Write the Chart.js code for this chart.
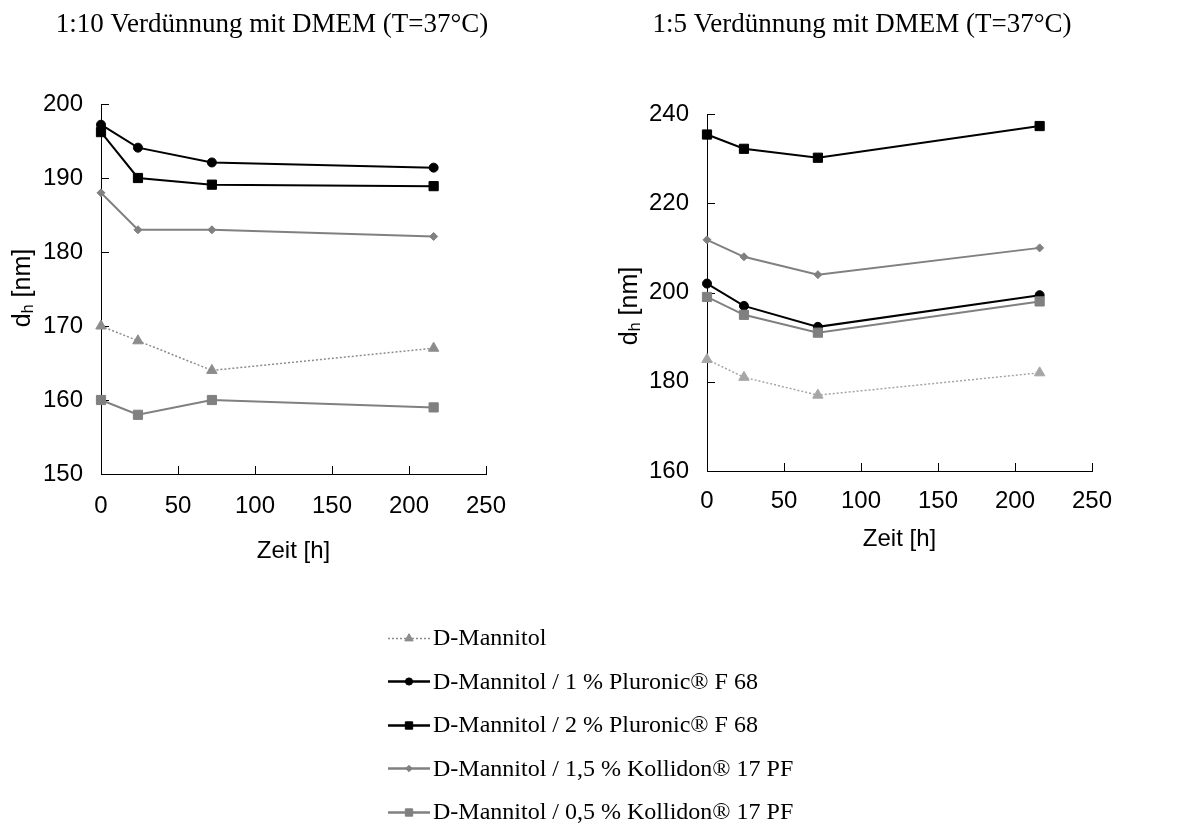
<!DOCTYPE html>
<html lang="de">
<head>
<meta charset="utf-8">
<title>Verdünnung mit DMEM (T=37°C)</title>
<script src="https://cdn.jsdelivr.net/npm/chart.js@4.4.1/dist/chart.umd.min.js"></script>
<style>
  html, body { margin: 0; padding: 0; background: #fff; }
  #page { position: relative; width: 1178px; height: 825px; overflow: hidden; }
  .box { position: absolute; top: 0; }
  #left { left: 0; }
  #right { left: 590px; }
  #legend { position: absolute; left: 388px; top: 616px; font-family: "Liberation Serif", "Times New Roman", serif; font-size: 24px; color: #000; }
  .row { display: flex; align-items: center; height: 43.5px; white-space: nowrap; }
  .row canvas { display: block; margin-right: 3px; }
</style>
</head>
<body>
<div id="page">
  <canvas id="left" class="box" width="590" height="600"></canvas>
  <canvas id="right" class="box" width="588" height="600"></canvas>
  <div id="legend"></div>
</div>
<script>
// Zeitpunkte (x) und Achsenticks
const hours = [0, 24, 72, 216];
const xTicks = [0, 50, 100, 150, 200, 250];

const seriesNames = [
  'D-Mannitol',
  'D-Mannitol / 1 % Pluronic® F 68',
  'D-Mannitol / 2 % Pluronic® F 68',
  'D-Mannitol / 1,5 % Kollidon® 17 PF',
  'D-Mannitol / 0,5 % Kollidon® 17 PF'
];

// 1:10 Verdünnung
const mannitol10 = [170, 168, 164, 167];
const pluronic1_10 = [197.2, 194.1, 192.1, 191.4];
const pluronic2_10 = [196.2, 190, 189.1, 188.9];
const kollidon15_10 = [188, 183, 183, 182.1];
const kollidon05_10 = [160, 158, 160, 159];

// 1:5 Verdünnung
const mannitol5 = [185, 181, 177, 182];
const pluronic1_5 = [202, 197, 192.3, 199.4];
const pluronic2_5 = [235.4, 232.2, 230.2, 237.3];
const kollidon15_5 = [211.8, 208, 204, 210];
const kollidon05_5 = [199, 195, 191, 198];

// Darstellung der Reihen
const styles = [
  { color: '#8c8c8c', point: 'triangle', radius: 6, width: 1.5, dash: [2, 2] },
  { color: '#000000', point: 'circle', radius: 4.5, width: 2, dash: [] },
  { color: '#000000', point: 'rect', radius: 6.5, width: 2, dash: [] },
  { color: '#808080', point: 'rectRot', radius: 4, width: 2, dash: [] },
  { color: '#808080', point: 'rect', radius: 6.5, width: 2, dash: [] }
];

const sansFont = { family: '"Liberation Sans", Arial, sans-serif', size: 24 };

// Kleine Ticks nach innen
const innerTicks = {
  id: 'innerTicks',
  beforeDatasetsDraw(chart) {
    const { ctx, chartArea, scales } = chart;
    ctx.save();
    ctx.strokeStyle = '#000';
    ctx.lineWidth = 1;
    scales.y.ticks.forEach(t => {
      const py = Math.round(scales.y.getPixelForValue(t.value)) + 0.5;
      ctx.beginPath();
      ctx.moveTo(chartArea.left, py);
      ctx.lineTo(chartArea.left + 8, py);
      ctx.stroke();
    });
    scales.x.ticks.forEach(t => {
      const px = Math.round(scales.x.getPixelForValue(t.value)) + 0.5;
      ctx.beginPath();
      ctx.moveTo(px, chartArea.bottom);
      ctx.lineTo(px, chartArea.bottom - 8);
      ctx.stroke();
    });
    ctx.restore();
  }
};

// Titel und y-Achsenbeschriftung mit Index
const textParts = {
  id: 'textParts',
  afterDraw(chart, args, opts) {
    const ctx = chart.ctx;
    ctx.save();
    ctx.fillStyle = '#000';
    ctx.textAlign = 'center';
    ctx.textBaseline = 'middle';
    ctx.font = '27px "Liberation Serif", "Times New Roman", serif';
    ctx.fillText(opts.title, opts.titleX, opts.titleY);

    // d_h [nm], gedreht
    ctx.translate(opts.yTitleX, opts.yTitleY);
    ctx.rotate(-Math.PI / 2);
    ctx.textAlign = 'left';
    const big = '25px "Liberation Sans", Arial, sans-serif';
    const small = '16px "Liberation Sans", Arial, sans-serif';
    ctx.font = big;
    const w1 = ctx.measureText('d').width;
    const w3 = ctx.measureText(' [nm]').width;
    ctx.font = small;
    const w2 = ctx.measureText('h').width;
    let x = -(w1 + w2 + w3) / 2;
    ctx.font = big;
    ctx.fillText('d', x, 0);
    x += w1;
    ctx.font = small;
    ctx.fillText('h', x, 6);
    x += w2;
    ctx.font = big;
    ctx.fillText(' [nm]', x, 0);
    ctx.restore();
  }
};

function makeChart(id, valuesList, cfg) {
  const datasets = valuesList.map((values, i) => {
    const st = styles[i];
    const color = (i === 0 && cfg.mannitolColor) ? cfg.mannitolColor : st.color;
    return {
      label: seriesNames[i],
      data: hours.map((h, k) => ({ x: h, y: values[k] })),
      borderColor: color,
      backgroundColor: color,
      borderWidth: st.width,
      borderDash: st.dash,
      pointStyle: st.point,
      pointRadius: st.radius,
      pointBorderWidth: 1,
      pointBorderColor: color,
      pointBackgroundColor: color,
      tension: 0,
      clip: false,
      order: valuesList.length - i
    };
  });

  return new Chart(document.getElementById(id), {
    type: 'line',
    data: { datasets },
    options: {
      responsive: false,
      animation: false,
      devicePixelRatio: 1,
      layout: { padding: cfg.padding },
      plugins: {
        legend: { display: false },
        title: { display: false },
        tooltip: { enabled: false },
        textParts: {
          title: cfg.title,
          titleX: cfg.titleX,
          titleY: 25,
          yTitleX: cfg.yTitleX,
          yTitleY: cfg.yTitleY
        }
      },
      scales: {
        x: {
          type: 'linear',
          min: 0,
          max: 250,
          afterBuildTicks: s => { s.ticks = xTicks.map(v => ({ value: v })); },
          afterFit: s => { s.height = cfg.xHeight; },
          grid: { display: false, drawTicks: false },
          border: { display: true, color: '#000', width: 1 },
          ticks: { padding: cfg.xPad, font: sansFont, color: '#000', maxRotation: 0 },
          title: { display: true, text: 'Zeit [h]', font: sansFont, color: '#000', padding: 0 }
        },
        y: {
          min: cfg.yMin,
          max: cfg.yMax,
          afterFit: s => { s.width = cfg.yWidth; },
          grid: { display: false, drawTicks: false },
          border: { display: true, color: '#000', width: 1 },
          ticks: { stepSize: cfg.yStep, padding: 18, font: sansFont, color: '#000' }
        }
      }
    },
    plugins: [innerTicks, textParts]
  });
}

makeChart('left', [mannitol10, pluronic1_10, pluronic2_10, kollidon15_10, kollidon05_10], {
  title: '1:10 Verdünnung mit DMEM (T=37°C)',
  titleX: 272,
  yTitleX: 23, yTitleY: 288,
  yMin: 150, yMax: 200, yStep: 10,
  yWidth: 101, xHeight: 92, xPad: 18,
  padding: { left: 0, top: 104, right: 104, bottom: 34 }
});

makeChart('right', [mannitol5, pluronic1_5, pluronic2_5, kollidon15_5, kollidon05_5], {
  title: '1:5 Verdünnung mit DMEM (T=37°C)',
  titleX: 272,
  yTitleX: 40, yTitleY: 306,
  yMin: 160, yMax: 240, yStep: 20,
  yWidth: 117, xHeight: 83, xPad: 16,
  padding: { left: 0, top: 114, right: 86, bottom: 46 },
  mannitolColor: '#a6a6a6'
});

// Legende unten
const legend = document.getElementById('legend');
seriesNames.forEach((name, i) => {
  const st = styles[i];
  const row = document.createElement('div');
  row.className = 'row';
  const c = document.createElement('canvas');
  c.width = 42;
  c.height = 20;
  const g = c.getContext('2d');
  g.strokeStyle = st.color;
  g.fillStyle = st.color;
  g.lineWidth = i === 0 ? 1.5 : 2.5;
  g.setLineDash(st.dash);
  g.beginPath();
  g.moveTo(0, 10.5);
  g.lineTo(42, 10.5);
  g.stroke();
  g.setLineDash([]);
  g.lineWidth = 1;
  Chart.helpers.drawPoint(g, { pointStyle: st.point, radius: st.radius * 0.8, rotation: 0, borderWidth: 1 }, 21, 10.5);
  const span = document.createElement('span');
  span.textContent = name;
  row.appendChild(c);
  row.appendChild(span);
  legend.appendChild(row);
});
</script>
</body>
</html>
